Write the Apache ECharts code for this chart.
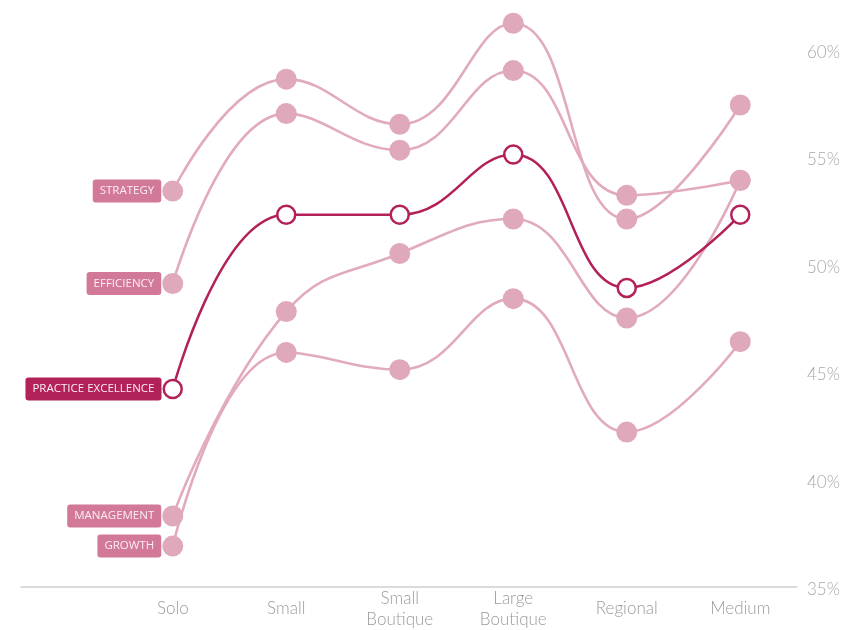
<!DOCTYPE html>
<html>
<head>
<meta charset="utf-8">
<style>
  html, body { margin: 0; padding: 0; background: #ffffff; }
  #chart { width: 863px; height: 630px; }
</style>
<script src="https://cdn.jsdelivr.net/npm/echarts@6/dist/echarts.min.js"></script>
</head>
<body>
<div id="chart"></div>
<script>
// Firm size categories along the x axis
const categories = ['Solo', 'Small', 'Small\nBoutique', 'Large\nBoutique', 'Regional', 'Medium'];

// Scores (%) per category for each area
const strategy            = [53.4, 58.6, 56.5, 61.2, 52.1, 57.4];
const efficiency          = [49.1, 57.0, 55.3, 59.0, 53.2, 53.9];
const practiceExcellence  = [44.2, 52.3, 52.3, 55.1, 48.9, 52.3];
const management          = [38.3, 47.8, 50.5, 52.1, 47.5, 53.9];
const growth              = [36.9, 45.9, 45.1, 48.4, 42.2, 46.4];

const seriesNames = ['STRATEGY', 'EFFICIENCY', 'PRACTICE EXCELLENCE', 'MANAGEMENT', 'GROWTH'];
const seriesValues = [strategy, efficiency, practiceExcellence, management, growth];

// Value axis range and tick step
const yMin = 35;
const yMax = 62;
const yStep = 5;

const LIGHT = '#e2aabd';
const DOT = '#e0a8bb';
const TAG = '#d27898';
const DARK = '#b3215a';
const FONT = 'Lato, "Open Sans", sans-serif';

function buildSeries(name, values) {
  const main = name === 'PRACTICE EXCELLENCE';
  return {
    name: name,
    type: 'line',
    smooth: 0.45,
    xAxisIndex: 0,
    yAxisIndex: 0,
    z: main ? 5 : 2,
    symbol: 'circle',
    symbolSize: main ? 18 : 21,
    lineStyle: { color: main ? DARK : LIGHT, width: main ? 2.5 : 2.6 },
    itemStyle: main
      ? { color: '#ffffff', borderColor: DARK, borderWidth: 2.5 }
      : { color: DOT, borderWidth: 0 },
    emphasis: { disabled: true },
    data: values.map(function (v, i) {
      if (i !== 0) return v;
      return {
        value: v,
        label: {
          show: true,
          position: 'left',
          distance: 1,
          formatter: name,
          color: '#fbeef3',
          backgroundColor: main ? DARK : TAG,
          borderRadius: 3,
          padding: [6, 7, 5, 7],
          fontFamily: '"Open Sans", Lato, sans-serif',
          fontSize: 11.5,
          lineHeight: 12
        }
      };
    })
  };
}

const chart = echarts.init(document.getElementById('chart'), null, { renderer: 'canvas' });

chart.setOption({
  animation: false,
  backgroundColor: '#ffffff',
  grid: [
    { left: 116, right: 66, top: 6, bottom: 43 },
    { left: 21, right: 66, top: 6, bottom: 43 }
  ],
  xAxis: [
    {
      type: 'category',
      gridIndex: 0,
      data: categories,
      boundaryGap: true,
      axisLine: { show: false },
      axisTick: { show: false },
      axisLabel: {
        color: '#9b9b9b',
        fontFamily: FONT,
        fontWeight: 300,
        fontSize: 17,
        lineHeight: 21,
        verticalAlign: 'middle',
        margin: 22,
        interval: 0
      }
    },
    {
      // full-width baseline
      type: 'value',
      gridIndex: 1,
      min: 0,
      max: 1,
      axisLine: { show: true, lineStyle: { color: '#cfcfcf', width: 1.5 } },
      axisTick: { show: false },
      axisLabel: { show: false },
      splitLine: { show: false }
    }
  ],
  yAxis: [
    {
      type: 'value',
      gridIndex: 0,
      position: 'right',
      min: yMin,
      max: yMax,
      interval: yStep,
      axisLine: { show: false },
      axisTick: { show: false },
      splitLine: { show: false },
      axisLabel: {
        margin: 10,
        color: '#a8a8a8',
        fontFamily: FONT,
        fontWeight: 300,
        fontSize: 17,
        verticalAlign: 'top',
        lineHeight: 6,
        formatter: function (v) { return v % yStep === 0 ? v + '%' : ''; }
      }
    },
    {
      type: 'value',
      gridIndex: 1,
      show: false,
      min: 0,
      max: 1
    }
  ],
  series: seriesNames.map(function (n, i) { return buildSeries(n, seriesValues[i]); })
});
</script>
</body>
</html>
